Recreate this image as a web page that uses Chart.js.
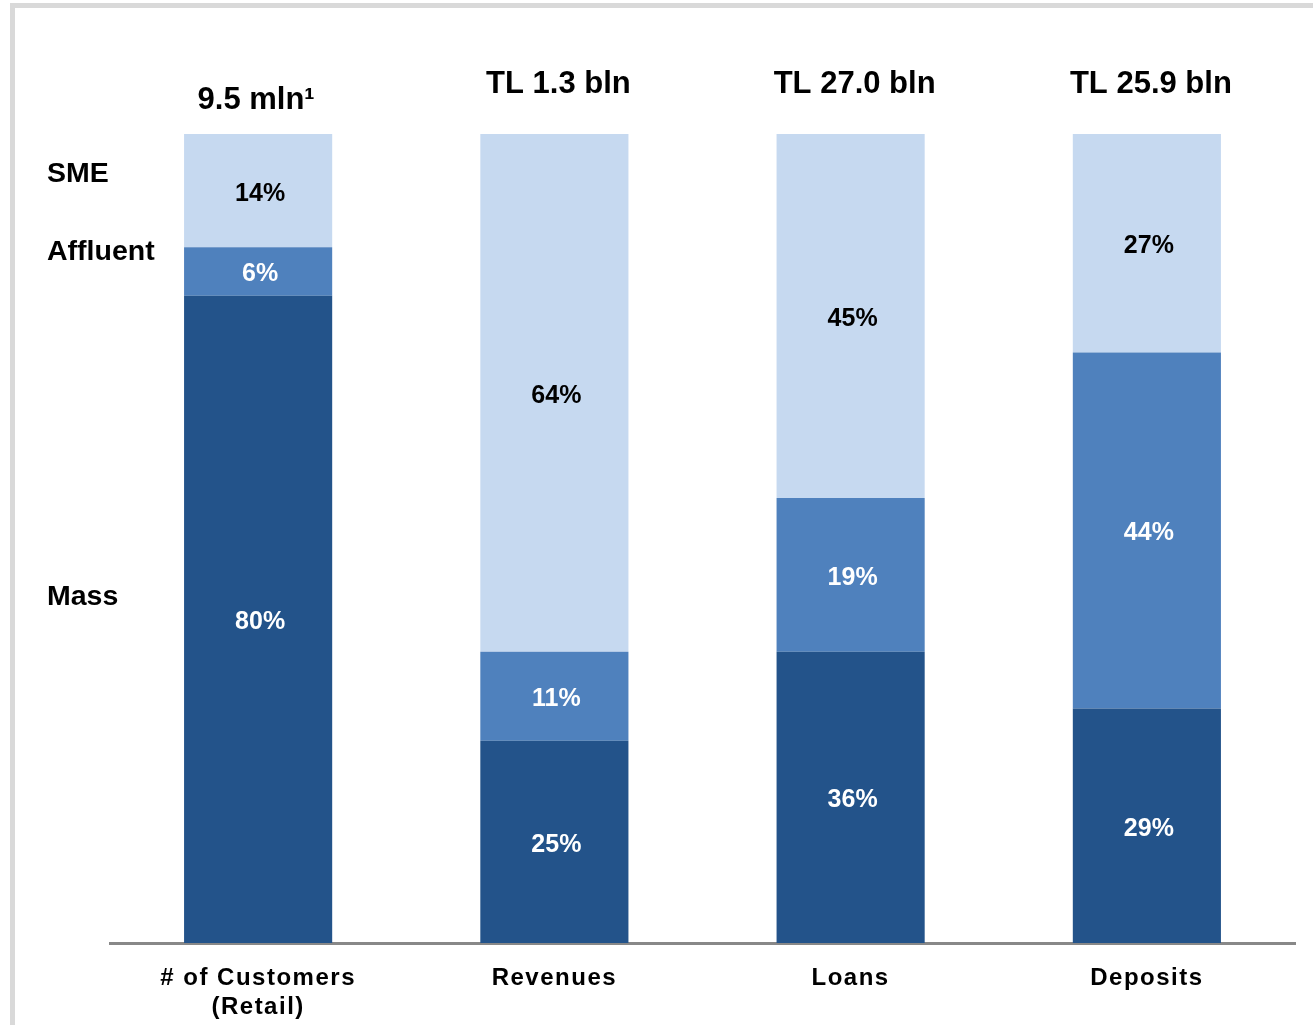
<!DOCTYPE html>
<html>
<head>
<meta charset="utf-8">
<title>Segment breakdown</title>
<script src="https://cdn.jsdelivr.net/npm/chart.js@4.4.1/dist/chart.umd.min.js"></script>
<style>
    html, body { margin: 0; padding: 0; background: #fff; }
    #wrap { position: relative; width: 1313px; height: 1025px; overflow: hidden; }
    #frame { position: absolute; left: 10px; top: 3px; right: -10px; bottom: -10px;
             border-top: 5px solid #d9d9d9; border-left: 5px solid #d9d9d9; }
    canvas { position: absolute; left: 0; top: 0; }
</style>
</head>
<body>
<div id="wrap">
    <div id="frame"></div>
    <canvas id="segmentChart" width="1313" height="1025"></canvas>
</div>
<script>
const categories = [['# of Customers', '(Retail)'], 'Revenues', 'Loans', 'Deposits'];
const totals = ['9.5 mln\u00B9', 'TL 1.3 bln', 'TL 27.0 bln', 'TL 25.9 bln'];
const massShare = [80, 25, 36, 29];
const affluentShare = [6, 11, 19, 44];
const smeShare = [14, 64, 45, 27];
const segmentNames = ['Mass', 'Affluent', 'SME'];

const FONT = 'Arial, "Liberation Sans", sans-serif';

// wider letter spacing for the category labels only
const tickSpacing = {
    id: 'tickSpacing',
    beforeDraw(chart) { chart.ctx.letterSpacing = '1.5px'; },
    beforeDatasetsDraw(chart) { chart.ctx.letterSpacing = '0px'; }
};

// percent labels inside each segment
const segmentLabels = {
    id: 'segmentLabels',
    afterDatasetsDraw(chart) {
        const ctx = chart.ctx;
        ctx.save();
        ctx.letterSpacing = '0px';
        ctx.font = 'bold 25px ' + FONT;
        ctx.textAlign = 'center';
        ctx.textBaseline = 'middle';
        chart.data.datasets.forEach(function(ds, i) {
            const meta = chart.getDatasetMeta(i);
            meta.data.forEach(function(bar, j) {
                const mid = (bar.y + bar.base) / 2;
                ctx.fillStyle = ds.labelColor;
                ctx.fillText(ds.data[j] + '%', bar.x + 2, mid + 3);
            });
        });
        ctx.restore();
    }
};

// totals above bars and segment names on the left
const headerLabels = {
    id: 'headerLabels',
    afterDraw(chart) {
        const ctx = chart.ctx;
        const y = chart.scales.y;
        const top = chart.getDatasetMeta(2).data;
        ctx.save();
        ctx.letterSpacing = '0px';
        ctx.fillStyle = '#000';
        ctx.font = 'bold 31px ' + FONT;
        ctx.textAlign = 'center';
        ctx.textBaseline = 'middle';
        top.forEach(function(bar, j) {
            const off = j === 0 ? 34 : 50;
            ctx.fillText(totals[j], bar.x + (j === 0 ? -2 : 4), bar.y - off);
        });

        ctx.font = 'bold 28.5px ' + FONT;
        ctx.textAlign = 'left';
        const shift = [-22, -19, -16];
        let base = 0;
        [massShare, affluentShare, smeShare].forEach(function(arr, i) {
            const mid = base + arr[0] / 2;
            base += arr[0];
            ctx.fillText(segmentNames[i], 47, y.getPixelForValue(mid) + shift[i]);
        });
        ctx.restore();
    }
};

new Chart(document.getElementById('segmentChart').getContext('2d'), {
    type: 'bar',
    data: {
        labels: categories,
        datasets: [
            { label: 'Mass', data: massShare, backgroundColor: '#23538A', labelColor: '#fff' },
            { label: 'Affluent', data: affluentShare, backgroundColor: '#4F81BD', labelColor: '#fff' },
            { label: 'SME', data: smeShare, backgroundColor: '#C6D9F0', labelColor: '#000' }
        ]
    },
    options: {
        responsive: false,
        animation: false,
        layout: { padding: { top: 134, left: 110, right: 18, bottom: 0 } },
        datasets: { bar: { categoryPercentage: 1, barPercentage: 0.5, borderWidth: 0 } },
        plugins: { legend: { display: false }, tooltip: { enabled: false } },
        scales: {
            x: {
                stacked: true,
                grid: { display: false, drawTicks: false },
                border: { display: true, color: '#888888', width: 3 },
                ticks: { color: '#000', padding: 21, maxRotation: 0,
                         font: { family: FONT, size: 24, weight: 'bold', lineHeight: 1.2 } },
                afterFit: function(scale) { scale.height = 82; }
            },
            y: { stacked: true, display: false, min: 0, max: 100 }
        }
    },
    plugins: [tickSpacing, segmentLabels, headerLabels]
});
</script>
</body>
</html>
